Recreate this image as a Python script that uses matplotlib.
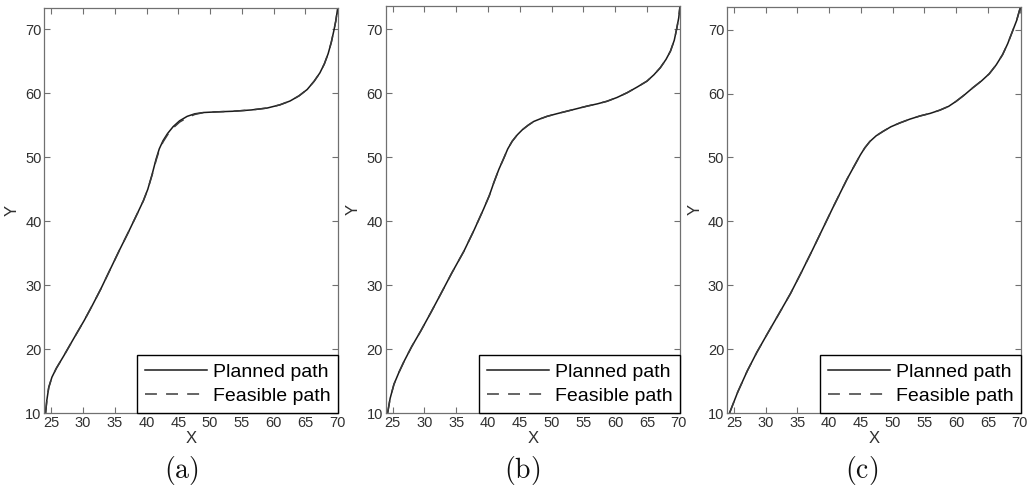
import matplotlib
matplotlib.use("Agg")
import matplotlib.pyplot as plt

plt.rcParams['font.family'] = ['Liberation Sans', 'DejaVu Sans']
plt.rcParams['mathtext.fontset'] = 'cm'

# ---- data ----
planned_a_x = [24.1, 24.3, 24.6, 25.1, 25.8, 27.0, 28.5, 30.2, 31.5, 32.8, 34.2, 35.7, 37.2, 38.6, 39.5,
               40.2, 40.9, 41.5, 42.0, 42.6, 43.3, 44.2, 45.2, 46.4, 47.6, 49.0, 51.0, 53.7, 56.5, 59.0,
               61.0, 62.6, 64.0, 65.3, 66.4, 67.3, 68.0, 68.6, 69.1, 69.5, 69.8, 70.1]
planned_a_y = [10.0, 12.0, 14.0, 15.6, 17.0, 19.0, 21.6, 24.5, 26.9, 29.4, 32.3, 35.4, 38.4, 41.3, 43.2,
               45.0, 47.4, 49.7, 51.3, 52.6, 53.7, 54.8, 55.7, 56.4, 56.8, 57.0, 57.1, 57.2, 57.4, 57.7,
               58.2, 58.8, 59.6, 60.6, 61.9, 63.2, 64.6, 66.2, 68.0, 69.8, 71.3, 73.3]
feasible_a_x = planned_a_x[:]
feasible_a_y = [10.0, 12.0, 14.0, 15.6, 17.0, 19.0, 21.6, 24.5, 26.9, 29.4, 32.3, 35.4, 38.4, 41.3, 43.2,
                45.0, 47.3, 49.5, 51.1, 52.4, 53.5, 54.6, 55.5, 56.2, 56.7, 57.0, 57.1, 57.2, 57.4, 57.7,
                58.2, 58.8, 59.6, 60.6, 61.9, 63.2, 64.6, 66.2, 68.0, 69.8, 71.3, 73.3]

planned_b_x = [24.2, 24.6, 25.2, 26.0, 26.8, 28.0, 29.4, 31.0, 32.5, 34.3, 36.2, 37.8, 39.3, 40.2, 40.9,
               41.7, 42.5, 43.1, 43.8, 44.6, 45.4, 46.3, 47.2, 48.2, 49.3, 50.8, 52.4, 54.0, 55.6, 57.2,
               58.7, 60.3, 61.9, 63.5, 65.0, 66.1, 67.1, 68.0, 68.7, 69.3, 69.7, 70.0, 70.2]
planned_b_y = [10.0, 12.3, 14.5, 16.4, 18.1, 20.4, 22.8, 25.7, 28.5, 31.9, 35.3, 38.6, 41.9, 44.0, 46.0,
               48.1, 49.9, 51.3, 52.5, 53.5, 54.3, 55.0, 55.6, 56.0, 56.4, 56.8, 57.2, 57.6, 58.0, 58.35,
               58.75, 59.35, 60.1, 61.0, 61.9, 62.9, 64.0, 65.3, 66.6, 68.3, 70.2, 71.8, 73.6]
feasible_b_x = planned_b_x[:]
feasible_b_y = planned_b_y[:]

planned_c_x = [24.3, 25.6, 27.1, 28.6, 30.2, 32.0, 33.9, 35.6, 37.3, 39.0, 40.7, 41.8, 42.8, 43.9, 44.9,
               45.6, 46.4, 47.4, 48.5, 49.7, 51.1, 52.7, 54.3, 55.9, 57.4, 58.8, 60.0, 61.3, 62.6, 64.0,
               65.2, 66.3, 67.3, 68.1, 68.8, 69.5, 70.1]
planned_c_y = [10.0, 13.3, 16.6, 19.5, 22.3, 25.4, 28.7, 32.0, 35.4, 38.9, 42.4, 44.6, 46.6, 48.6, 50.4,
               51.5, 52.5, 53.4, 54.1, 54.8, 55.4, 56.0, 56.5, 56.9, 57.4, 58.0, 58.8, 59.8, 60.9, 62.0,
               63.1, 64.5, 66.1, 67.8, 69.6, 71.4, 73.5]
feasible_c_x = planned_c_x[:]
feasible_c_y = planned_c_y[:]

x_ticks = [25, 30, 35, 40, 45, 50, 55, 60, 65, 70]
y_ticks = [10, 20, 30, 40, 50, 60, 70]
legend_labels = ["Planned path", "Feasible path"]
captions = ["(a)", "(b)", "(c)"]

panels = [
    (planned_a_x, planned_a_y, feasible_a_x, feasible_a_y, 73.3),
    (planned_b_x, planned_b_y, feasible_b_x, feasible_b_y, 73.7),
    (planned_c_x, planned_c_y, feasible_c_x, feasible_c_y, 73.6),
]

W, H = 1029, 494
fig = plt.figure(figsize=(W / 100, H / 100), dpi=100)

boxes = [(44.3, 338.3, 8.3), (385.7, 680.0, 5.7), (727.0, 1021.0, 6.7)]
bottom_px = 413.0
cap_x = [181.7, 521.7, 862.0]

spine_col = '#707070'
for i, ((px_, py_, fx_, fy_, ytop), (l, r, t)) in enumerate(zip(panels, boxes)):
    ax = fig.add_axes([l / W, (H - bottom_px) / H, (r - l) / W, (bottom_px - t) / H])
    ax.plot(px_, py_, color='#1a1a1a', lw=1.1, solid_joinstyle='round', label=legend_labels[0])
    ax.plot(fx_, fy_, color='#3a3a3a', lw=1.1, linestyle=(0, (7.8, 6.0)), label=legend_labels[1])
    ax.set_xlim(23.9, 70.2)
    ax.set_ylim(10, ytop)
    ax.set_xticks(x_ticks)
    ax.set_yticks(y_ticks)
    ax.tick_params(direction='in', top=True, right=True, length=4, width=0.8,
                   color=spine_col, labelsize=10.5, labelcolor='#303030', pad=2)
    for s in ax.spines.values():
        s.set_color(spine_col)
        s.set_linewidth(0.9)
    ax.set_xlabel("X", fontsize=12, color='#303030', labelpad=1)
    ax.set_ylabel("Y", fontsize=12, color='#303030', labelpad=4)
    leg = ax.legend(loc='lower right', borderaxespad=0, fontsize=14, handlelength=3.2,
                    handletextpad=0.3, labelspacing=0.35, borderpad=0.4, fancybox=False,
                    framealpha=1, edgecolor='black')
    leg.get_frame().set_linewidth(1.0)
    fig.text(cap_x[i] / W, 1 - 470 / H, r'$\mathrm{' + captions[i] + '}$', fontsize=20,
             ha='center', va='center', color='#111111')

fig.savefig("out.png", dpi=100)
